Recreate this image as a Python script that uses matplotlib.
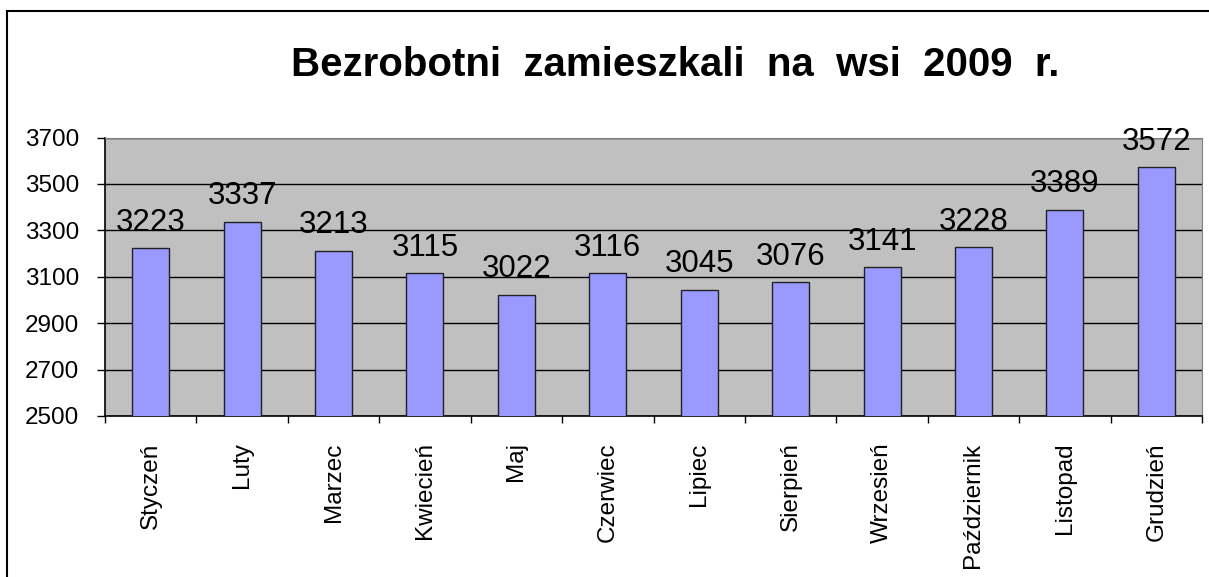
import numpy as np
import matplotlib.pyplot as plt
from matplotlib.lines import Line2D

plt.rcParams['font.family'] = ['Liberation Sans', 'DejaVu Sans']

# Data
months = ['Styczeń', 'Luty', 'Marzec', 'Kwiecień', 'Maj', 'Czerwiec',
          'Lipiec', 'Sierpień', 'Wrzesień', 'Październik', 'Listopad', 'Grudzień']
values = [3223, 3337, 3213, 3115, 3022, 3116, 3045, 3076, 3141, 3228, 3389, 3572]
yticks = [2500, 2700, 2900, 3100, 3300, 3500, 3700]
title = 'Bezrobotni  zamieszkali  na  wsi  2009  r.'

W, H = 1209, 577
fig = plt.figure(figsize=(W / 100, H / 100), dpi=100)
fig.patch.set_facecolor('white')

# Plot area in pixel coords
left, right, top, bottom = 105, 1202, 137.5, 416
ax = fig.add_axes([left / W, 1 - bottom / H, (right - left) / W, (bottom - top) / H])
ax.set_facecolor('#C0C0C0')

x = np.arange(len(months))
ax.bar(x, values, width=0.405, color='#9999FF',
       edgecolor='#222222', linewidth=1.0, zorder=3)

ax.set_ylim(2500, 3700)
ax.set_xlim(-0.5, len(months) - 0.5)

# Gridlines
ax.set_yticks(yticks)
ax.yaxis.grid(True, color='black', linewidth=1.0)
ax.set_axisbelow(True)
ax.tick_params(axis='y', direction='out', length=6, width=1, pad=12.5, labelsize=17.5)

# X ticks: labels at centres, tick marks at boundaries
ax.set_xticks(x)
ax.set_xticklabels(months, rotation=90, va='top', ha='center', fontsize=17.5)
ax.set_xticks(np.arange(-0.5, len(months)), minor=True)
ax.tick_params(axis='x', which='major', length=0, pad=19)
ax.tick_params(axis='x', which='minor', direction='out', length=5, width=1)

for side in ['top', 'right']:
    ax.spines[side].set_color('#808080')
for side in ['left', 'bottom']:
    ax.spines[side].set_color('black')
    ax.spines[side].set_linewidth(1.2)

# Value labels
for xi, v in zip(x, values):
    ax.annotate(str(v), (xi, v), xytext=(0, 12.5), textcoords='offset points',
                ha='center', va='baseline', fontsize=22.5, clip_on=False)

# Title
fig.text(675 / W, 1 - 76 / H, title, ha='center', va='baseline',
         fontsize=29, fontweight='bold')

# Outer frame (left and top edges)
fx, fy = 7 / W, 1 - 11 / H
fig.add_artist(Line2D([fx, fx], [0, fy], color='black', linewidth=1.5))
fig.add_artist(Line2D([fx, 1], [fy, fy], color='black', linewidth=1.5))

fig.savefig('out.png', dpi=100)
